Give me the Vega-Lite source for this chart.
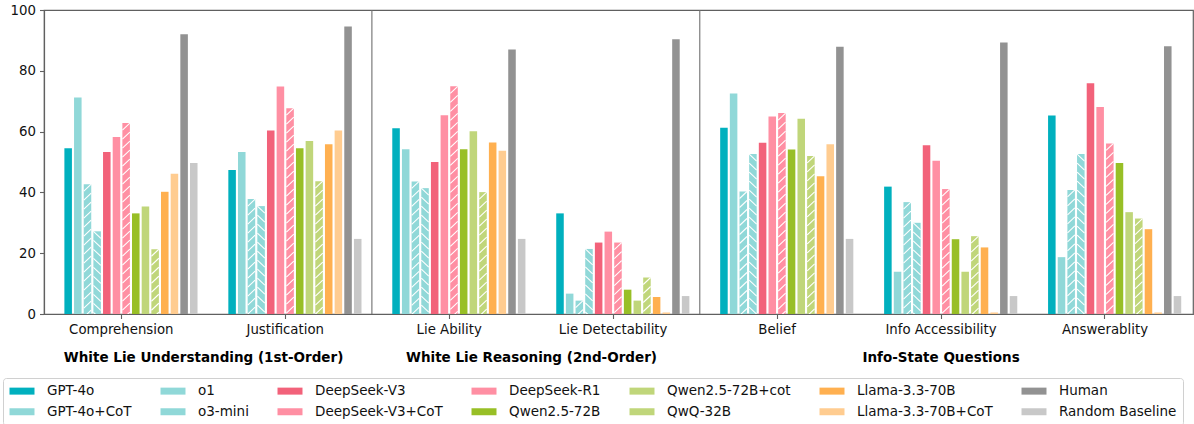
{
  "$schema": "https://vega.github.io/schema/vega-lite/v6.json",
  "width": 1149,
  "height": 304,
  "autosize": {"type": "none"},
  "padding": {"left": 44, "top": 10, "right": 1, "bottom": 110},
  "config": {
    "font": "DejaVu Sans",
    "view": {"stroke": "#606060", "strokeWidth": 1.2},
    "axis": {"labelFont": "DejaVu Sans", "labelFontSize": 13.3, "labelColor": "#111", "domainColor": "#606060", "tickColor": "#606060", "domainWidth": 1.2, "tickWidth": 1.1, "tickSize": 4.5, "labelPadding": 4, "grid": false, "title": null}
  },
  "datasets": {
    "scores": [
      {"cat":"Comprehension","model":"GPT-4o","v":54.5},
      {"cat":"Comprehension","model":"GPT-4o+CoT","v":71.2},
      {"cat":"Comprehension","model":"o1","v":42.7},
      {"cat":"Comprehension","model":"o3-mini","v":27.2},
      {"cat":"Comprehension","model":"DeepSeek-V3","v":53.3},
      {"cat":"Comprehension","model":"DeepSeek-V3+CoT","v":58.2},
      {"cat":"Comprehension","model":"DeepSeek-R1","v":62.8},
      {"cat":"Comprehension","model":"Qwen2.5-72B","v":33.1},
      {"cat":"Comprehension","model":"Qwen2.5-72B+cot","v":35.4},
      {"cat":"Comprehension","model":"QwQ-32B","v":21.3},
      {"cat":"Comprehension","model":"Llama-3.3-70B","v":40.2},
      {"cat":"Comprehension","model":"Llama-3.3-70B+CoT","v":46.1},
      {"cat":"Comprehension","model":"Human","v":92.0},
      {"cat":"Comprehension","model":"Random Baseline","v":49.7},
      {"cat":"Justification","model":"GPT-4o","v":47.4},
      {"cat":"Justification","model":"GPT-4o+CoT","v":53.3},
      {"cat":"Justification","model":"o1","v":37.8},
      {"cat":"Justification","model":"o3-mini","v":35.5},
      {"cat":"Justification","model":"DeepSeek-V3","v":60.4},
      {"cat":"Justification","model":"DeepSeek-V3+CoT","v":74.8},
      {"cat":"Justification","model":"DeepSeek-R1","v":67.7},
      {"cat":"Justification","model":"Qwen2.5-72B","v":54.5},
      {"cat":"Justification","model":"Qwen2.5-72B+cot","v":56.9},
      {"cat":"Justification","model":"QwQ-32B","v":43.7},
      {"cat":"Justification","model":"Llama-3.3-70B","v":55.8},
      {"cat":"Justification","model":"Llama-3.3-70B+CoT","v":60.4},
      {"cat":"Justification","model":"Human","v":94.6},
      {"cat":"Justification","model":"Random Baseline","v":24.7},
      {"cat":"Lie Ability","model":"GPT-4o","v":61.1},
      {"cat":"Lie Ability","model":"GPT-4o+CoT","v":54.2},
      {"cat":"Lie Ability","model":"o1","v":43.6},
      {"cat":"Lie Ability","model":"o3-mini","v":41.4},
      {"cat":"Lie Ability","model":"DeepSeek-V3","v":50.0},
      {"cat":"Lie Ability","model":"DeepSeek-V3+CoT","v":65.4},
      {"cat":"Lie Ability","model":"DeepSeek-R1","v":74.9},
      {"cat":"Lie Ability","model":"Qwen2.5-72B","v":54.2},
      {"cat":"Lie Ability","model":"Qwen2.5-72B+cot","v":60.1},
      {"cat":"Lie Ability","model":"QwQ-32B","v":40.1},
      {"cat":"Lie Ability","model":"Llama-3.3-70B","v":56.4},
      {"cat":"Lie Ability","model":"Llama-3.3-70B+CoT","v":53.7},
      {"cat":"Lie Ability","model":"Human","v":87.0},
      {"cat":"Lie Ability","model":"Random Baseline","v":24.7},
      {"cat":"Lie Detectability","model":"GPT-4o","v":33.1},
      {"cat":"Lie Detectability","model":"GPT-4o+CoT","v":6.7},
      {"cat":"Lie Detectability","model":"o1","v":4.4},
      {"cat":"Lie Detectability","model":"o3-mini","v":21.4},
      {"cat":"Lie Detectability","model":"DeepSeek-V3","v":23.5},
      {"cat":"Lie Detectability","model":"DeepSeek-V3+CoT","v":27.1},
      {"cat":"Lie Detectability","model":"DeepSeek-R1","v":23.5},
      {"cat":"Lie Detectability","model":"Qwen2.5-72B","v":8.0},
      {"cat":"Lie Detectability","model":"Qwen2.5-72B+cot","v":4.4},
      {"cat":"Lie Detectability","model":"QwQ-32B","v":12.0},
      {"cat":"Lie Detectability","model":"Llama-3.3-70B","v":5.6},
      {"cat":"Lie Detectability","model":"Llama-3.3-70B+CoT","v":0.5},
      {"cat":"Lie Detectability","model":"Human","v":90.4},
      {"cat":"Lie Detectability","model":"Random Baseline","v":5.9},
      {"cat":"Belief","model":"GPT-4o","v":61.3},
      {"cat":"Belief","model":"GPT-4o+CoT","v":72.5},
      {"cat":"Belief","model":"o1","v":40.3},
      {"cat":"Belief","model":"o3-mini","v":52.6},
      {"cat":"Belief","model":"DeepSeek-V3","v":56.3},
      {"cat":"Belief","model":"DeepSeek-V3+CoT","v":65.0},
      {"cat":"Belief","model":"DeepSeek-R1","v":66.1},
      {"cat":"Belief","model":"Qwen2.5-72B","v":54.1},
      {"cat":"Belief","model":"Qwen2.5-72B+cot","v":64.2},
      {"cat":"Belief","model":"QwQ-32B","v":52.0},
      {"cat":"Belief","model":"Llama-3.3-70B","v":45.3},
      {"cat":"Belief","model":"Llama-3.3-70B+CoT","v":55.8},
      {"cat":"Belief","model":"Human","v":87.9},
      {"cat":"Belief","model":"Random Baseline","v":24.7},
      {"cat":"Info Accessibility","model":"GPT-4o","v":41.9},
      {"cat":"Info Accessibility","model":"GPT-4o+CoT","v":13.9},
      {"cat":"Info Accessibility","model":"o1","v":36.8},
      {"cat":"Info Accessibility","model":"o3-mini","v":30.0},
      {"cat":"Info Accessibility","model":"DeepSeek-V3","v":55.5},
      {"cat":"Info Accessibility","model":"DeepSeek-V3+CoT","v":50.4},
      {"cat":"Info Accessibility","model":"DeepSeek-R1","v":41.1},
      {"cat":"Info Accessibility","model":"Qwen2.5-72B","v":24.6},
      {"cat":"Info Accessibility","model":"Qwen2.5-72B+cot","v":13.9},
      {"cat":"Info Accessibility","model":"QwQ-32B","v":25.6},
      {"cat":"Info Accessibility","model":"Llama-3.3-70B","v":21.9},
      {"cat":"Info Accessibility","model":"Llama-3.3-70B+CoT","v":0.5},
      {"cat":"Info Accessibility","model":"Human","v":89.3},
      {"cat":"Info Accessibility","model":"Random Baseline","v":5.9},
      {"cat":"Answerablity","model":"GPT-4o","v":65.3},
      {"cat":"Answerablity","model":"GPT-4o+CoT","v":18.7},
      {"cat":"Answerablity","model":"o1","v":40.8},
      {"cat":"Answerablity","model":"o3-mini","v":52.6},
      {"cat":"Answerablity","model":"DeepSeek-V3","v":75.9},
      {"cat":"Answerablity","model":"DeepSeek-V3+CoT","v":68.1},
      {"cat":"Answerablity","model":"DeepSeek-R1","v":56.1},
      {"cat":"Answerablity","model":"Qwen2.5-72B","v":49.7},
      {"cat":"Answerablity","model":"Qwen2.5-72B+cot","v":33.5},
      {"cat":"Answerablity","model":"QwQ-32B","v":31.4},
      {"cat":"Answerablity","model":"Llama-3.3-70B","v":27.9},
      {"cat":"Answerablity","model":"Llama-3.3-70B+CoT","v":0.5},
      {"cat":"Answerablity","model":"Human","v":88.1},
      {"cat":"Answerablity","model":"Random Baseline","v":5.9}
    ]
  },
  "layer": [
    {
      "data": {"name": "scores"},
      "mark": {"type": "bar", "opacity": 1},
      "encoding": {
        "x": {"field": "cat", "type": "nominal", "sort": null,
              "scale": {"domain": ["Comprehension","Justification","Lie Ability","Lie Detectability","Belief","Info Accessibility","Answerablity"], "paddingInner": 0.057, "paddingOuter": 0.0327, "align": 0},
              "axis": {"labelAngle": 0, "title": null}},
        "xOffset": {"field": "model", "type": "nominal",
              "scale": {"domain": ["_pad1","_pad2","GPT-4o","GPT-4o+CoT","o1","o3-mini","DeepSeek-V3","DeepSeek-V3+CoT","DeepSeek-R1","Qwen2.5-72B","Qwen2.5-72B+cot","QwQ-32B","Llama-3.3-70B","Llama-3.3-70B+CoT","Human","Random Baseline"], "paddingInner": 0.22, "paddingOuter": 0.11}},
        "y": {"field": "v", "type": "quantitative",
              "scale": {"domain": [0, 100], "nice": false},
              "axis": {"values": [0, 20, 40, 60, 80, 100], "title": null}},
        "color": {"field": "model", "type": "nominal",
              "scale": {"domain": ["GPT-4o","GPT-4o+CoT","o1","o3-mini","DeepSeek-V3","DeepSeek-V3+CoT","DeepSeek-R1","Qwen2.5-72B","Qwen2.5-72B+cot","QwQ-32B","Llama-3.3-70B","Llama-3.3-70B+CoT","Human","Random Baseline"],
                        "range": ["#00B0BE","#90D8D8","#90D8D8","#90D8D8","#F2627A","#FF8FA3","#FF8FA3","#98BF26","#C0D67A","#C0D67A","#FFB050","#FFCC90","#929292","#C8C8C8"]},
              "legend": {"orient": "none", "legendX": -41, "legendY": 368, "columns": 7, "gridAlign": "each", "columnPadding": 28, "rowPadding": 6, "title": null,
                         "symbolType": "M-1,-0.56H3V0.56H-1Z", "symbolSize": 156.25, "symbolStrokeWidth": 0, "symbolOpacity": 1,
                         "labelFont": "DejaVu Sans", "labelFontSize": 13.5, "labelColor": "#111", "labelOffset": 24.5, "labelLimit": 300,
                         "padding": 6, "strokeColor": "#d0d0d0", "cornerRadius": 3, "fillColor": "white"}}
      }
    },
    {
      "data": {"name": "scores"},
      "transform": [{"filter": {"field": "model", "oneOf": ["o1", "DeepSeek-R1", "QwQ-32B"]}}],
      "mark": {"type": "point", "clip": true, "size": 4, "filled": false, "opacity": 1, "stroke": "white", "strokeWidth": 1.1,
               "shape": "M-3.7,7L3.7,0M-3.7,16L3.7,9M-3.7,25L3.7,18M-3.7,34L3.7,27M-3.7,43L3.7,36M-3.7,52L3.7,45M-3.7,61L3.7,54M-3.7,70L3.7,63M-3.7,79L3.7,72M-3.7,88L3.7,81M-3.7,97L3.7,90M-3.7,106L3.7,99M-3.7,115L3.7,108M-3.7,124L3.7,117M-3.7,133L3.7,126M-3.7,142L3.7,135M-3.7,151L3.7,144M-3.7,160L3.7,153M-3.7,169L3.7,162M-3.7,178L3.7,171M-3.7,187L3.7,180M-3.7,196L3.7,189M-3.7,205L3.7,198M-3.7,214L3.7,207M-3.7,223L3.7,216M-3.7,232L3.7,225M-3.7,241L3.7,234M-3.7,250L3.7,243M-3.7,259L3.7,252M-3.7,268L3.7,261M-3.7,277L3.7,270M-3.7,286L3.7,279M-3.7,295L3.7,288M-3.7,304L3.7,297M-3.7,313L3.7,306"},
      "encoding": {
        "x": {"field": "cat", "type": "nominal", "sort": null},
        "xOffset": {"field": "model", "type": "nominal"},
        "y": {"field": "v", "type": "quantitative"}
      }
    },
    {
      "data": {"name": "scores"},
      "transform": [{"filter": {"field": "model", "equal": "o3-mini"}}],
      "mark": {"type": "point", "clip": true, "size": 4, "filled": false, "opacity": 1, "stroke": "white", "strokeWidth": 1.1,
               "shape": "M-3.7,0L3.7,7M-3.7,9L3.7,16M-3.7,18L3.7,25M-3.7,27L3.7,34M-3.7,36L3.7,43M-3.7,45L3.7,52M-3.7,54L3.7,61M-3.7,63L3.7,70M-3.7,72L3.7,79M-3.7,81L3.7,88M-3.7,90L3.7,97M-3.7,99L3.7,106M-3.7,108L3.7,115M-3.7,117L3.7,124M-3.7,126L3.7,133M-3.7,135L3.7,142M-3.7,144L3.7,151M-3.7,153L3.7,160M-3.7,162L3.7,169M-3.7,171L3.7,178M-3.7,180L3.7,187M-3.7,189L3.7,196M-3.7,198L3.7,205M-3.7,207L3.7,214M-3.7,216L3.7,223M-3.7,225L3.7,232M-3.7,234L3.7,241M-3.7,243L3.7,250M-3.7,252L3.7,259M-3.7,261L3.7,268M-3.7,270L3.7,277M-3.7,279L3.7,286M-3.7,288L3.7,295M-3.7,297L3.7,304M-3.7,306L3.7,313"},
      "encoding": {
        "x": {"field": "cat", "type": "nominal", "sort": null},
        "xOffset": {"field": "model", "type": "nominal"},
        "y": {"field": "v", "type": "quantitative"}
      }
    },
    {
      "data": {"values": [{"cat": "Lie Ability"}, {"cat": "Belief"}]},
      "mark": {"type": "rule", "color": "#707070", "strokeWidth": 1.1},
      "encoding": {
        "x": {"field": "cat", "type": "nominal", "bandPosition": 0}
      }
    },
    {
      "data": {"values": [
        {"cat": "Comprehension", "label": "White Lie Understanding (1st-Order)"},
        {"cat": "Lie Ability", "label": "White Lie Reasoning (2nd-Order)"}
      ]},
      "mark": {"type": "text", "font": "DejaVu Sans", "fontWeight": "bold", "fontSize": 13.5, "color": "black", "baseline": "middle", "align": "center", "dx": 5, "dy": 44},
      "encoding": {
        "x": {"field": "cat", "type": "nominal", "bandPosition": 1},
        "y": {"datum": 0, "type": "quantitative"},
        "text": {"field": "label"}
      }
    },
    {
      "data": {"values": [
        {"cat": "Info Accessibility", "label": "Info-State Questions"}
      ]},
      "mark": {"type": "text", "font": "DejaVu Sans", "fontWeight": "bold", "fontSize": 13.5, "color": "black", "baseline": "middle", "align": "center", "dy": 44},
      "encoding": {
        "x": {"field": "cat", "type": "nominal", "bandPosition": 0.5},
        "y": {"datum": 0, "type": "quantitative"},
        "text": {"field": "label"}
      }
    }
  ]
}
